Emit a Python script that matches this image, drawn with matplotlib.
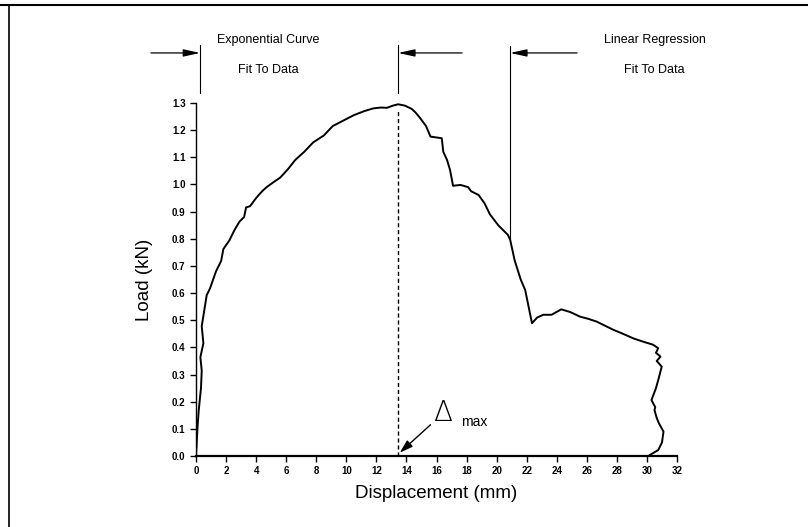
import matplotlib.pyplot as plt
from matplotlib.lines import Line2D

plt.rcParams['font.family'] = ['Liberation Sans', 'DejaVu Sans']

# load-displacement trace
disp = [0, 0.1, 0.18, 0.33, 0.38, 0.29, 0.49, 0.38, 0.49, 0.71,
        0.93, 1.33, 1.67, 1.82, 2.22, 2.56, 2.89, 3.2, 3.33, 3.6,
        4.0, 4.4, 4.7, 5.2, 5.6, 6.1, 6.6, 7.2, 7.8, 8.5,
        9.1, 9.8, 10.5, 11.2, 11.8, 12.3, 12.7, 13.1, 13.45, 13.9,
        14.35, 14.6, 14.9, 15.3, 15.6, 16.35, 16.45, 16.7, 16.9, 17.1,
        17.6, 18.1, 18.3, 18.8, 19.2, 19.55, 20.1, 20.75, 20.9, 21.2,
        21.6, 21.9, 22.35, 22.7, 23.1, 23.65, 24.3, 24.9, 25.55, 26.1,
        26.65, 27.2, 27.75, 28.4, 29.1, 29.8, 30.4, 30.75, 30.6, 30.9,
        30.65, 30.98, 30.8, 30.6, 30.3, 30.55, 30.5, 30.65, 30.8, 31.1,
        31.0, 30.75, 30.2]
load = [0, 0.105, 0.168, 0.25, 0.314, 0.364, 0.415, 0.478, 0.516, 0.592,
        0.617, 0.68, 0.718, 0.762, 0.794, 0.832, 0.863, 0.88, 0.915, 0.92,
        0.95, 0.975, 0.99, 1.01, 1.025, 1.055, 1.09, 1.12, 1.155, 1.18,
        1.215, 1.235, 1.255, 1.27, 1.28, 1.283, 1.282, 1.29, 1.295, 1.29,
        1.278, 1.265, 1.245, 1.215, 1.176, 1.17, 1.12, 1.09, 1.053, 0.995,
        0.998, 0.99, 0.975, 0.961, 0.93, 0.89, 0.85, 0.814, 0.796, 0.72,
        0.65, 0.611, 0.489, 0.51, 0.52, 0.52, 0.54, 0.53, 0.513, 0.505,
        0.495, 0.48, 0.465, 0.45, 0.433, 0.42, 0.41, 0.397, 0.38, 0.366,
        0.35, 0.329, 0.29, 0.25, 0.206, 0.18, 0.169, 0.14, 0.12, 0.09,
        0.05, 0.022, 0.004]

x_ticks = list(range(0, 33, 2))
y_ticks = [i / 10 for i in range(14)]

peak_x = 13.45      # displacement at max load
fit_start = 0.27    # start of exponential fit
reg_start = 20.9    # start of linear regression

fig = plt.figure(figsize=(8.08, 5.27), dpi=100)
ax = fig.add_axes([0.2426, 0.1347, 0.5953, 0.67])

ax.plot(disp, load, color='black', lw=1.4)
ax.plot([peak_x, peak_x], [0, 1.275], color='black', lw=1, dashes=(3, 2))

ax.set_xlim(0, 32)
ax.set_ylim(0, 1.3)
ax.set_xticks(x_ticks)
ax.set_yticks(y_ticks)
ax.set_yticklabels(['%.1f' % v for v in y_ticks])
ax.tick_params(labelsize=7, length=4, width=1)
for lab in ax.get_xticklabels() + ax.get_yticklabels():
    lab.set_fontweight('bold')
for s in ['top', 'right']:
    ax.spines[s].set_visible(False)
ax.spines['bottom'].set_linewidth(1.6)
ax.spines['left'].set_linewidth(1.0)

ax.set_xlabel('Displacement (mm)', fontsize=13.5, labelpad=6)
ax.set_ylabel('Load (kN)', fontsize=13.5, labelpad=14)

# region markers above the plot
for xv in [fit_start, peak_x]:
    ax.plot([xv, xv], [1.337, 1.514], color='black', lw=0.8, clip_on=False)
ax.plot([reg_start, reg_start], [0.8, 1.51], color='black', lw=0.8, clip_on=False)

arrow = dict(arrowstyle='-|>,head_length=1.0,head_width=0.22', color='black', lw=0.9,
             shrinkA=0, shrinkB=0)
ax.annotate('', xy=(fit_start, 1.484), xytext=(-3.0, 1.484), arrowprops=arrow,
            annotation_clip=False)
ax.annotate('', xy=(peak_x, 1.484), xytext=(17.7, 1.484), arrowprops=arrow,
            annotation_clip=False)
ax.annotate('', xy=(reg_start, 1.484), xytext=(25.35, 1.484), arrowprops=arrow,
            annotation_clip=False)

ax.text(4.8, 1.532, 'Exponential Curve', ha='center', va='center', fontsize=9)
ax.text(4.8, 1.42, 'Fit To Data', ha='center', va='center', fontsize=9)
ax.text(30.5, 1.532, 'Linear Regression', ha='center', va='center', fontsize=9)
ax.text(30.5, 1.42, 'Fit To Data', ha='center', va='center', fontsize=9)

# delta max callout
ax.annotate('', xy=(13.55, 0.012), xytext=(15.6, 0.115),
            arrowprops=dict(arrowstyle='-|>,head_length=0.8,head_width=0.25',
                            color='black', lw=1.0, shrinkA=0, shrinkB=0))
ax.text(16.4, 0.16, '\u0394', ha='center', va='center', fontsize=20,
        family='DejaVu Sans', fontweight='light')
ax.text(17.6, 0.125, 'max', ha='left', va='center', fontsize=10)

# scanned page frame
fig.add_artist(Line2D([0, 1], [0.99, 0.99], color='black', lw=1.5))
fig.add_artist(Line2D([0.011, 0.011], [0, 0.99], color='black', lw=1.2))

fig.savefig('out.png', dpi=100)
